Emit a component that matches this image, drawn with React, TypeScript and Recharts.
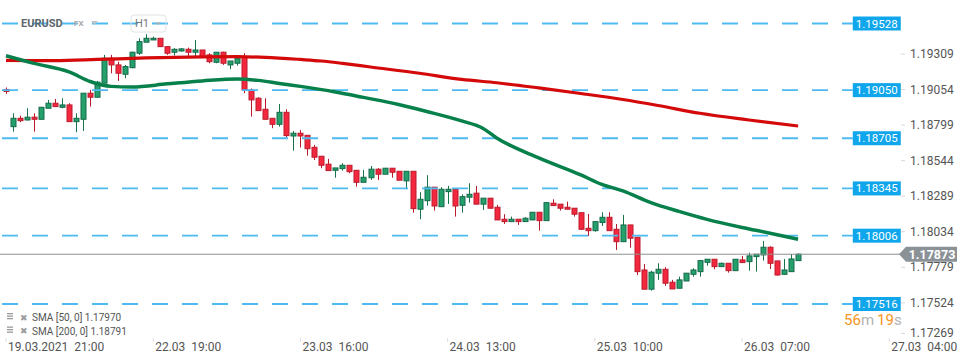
import { ComposedChart, Bar, Line, XAxis, YAxis, ReferenceLine } from 'recharts';

const W = 970;
const H = 364;
const PLOT_RIGHT = 905;

// hourly EURUSD candles, oldest first
const opens = [1.19055, 1.18788, 1.18848, 1.18836, 1.18856, 1.18841, 1.1892, 1.18956, 1.18927, 1.18944, 1.18824, 1.18841, 1.19028, 1.18999, 1.191, 1.19279, 1.19231, 1.19164, 1.19211, 1.19315, 1.19394, 1.1941, 1.19422, 1.19362, 1.19322, 1.19331, 1.19343, 1.19322, 1.19338, 1.19303, 1.1925, 1.19322, 1.19231, 1.19243, 1.1929, 1.19051, 1.18992, 1.18913, 1.18848, 1.18805, 1.18891, 1.18721, 1.18741, 1.18726, 1.1864, 1.18576, 1.18519, 1.18475, 1.18487, 1.18511, 1.18475, 1.18389, 1.18422, 1.18483, 1.18447, 1.1849, 1.18468, 1.18399, 1.18468, 1.18196, 1.18257, 1.18354, 1.18214, 1.18322, 1.18339, 1.18224, 1.18282, 1.18311, 1.18232, 1.18275, 1.1821, 1.18124, 1.18107, 1.18124, 1.18107, 1.18119, 1.18174, 1.18114, 1.18239, 1.18232, 1.1821, 1.18203, 1.18171, 1.18059, 1.18042, 1.181, 1.18138, 1.18052, 1.17963, 1.18083, 1.17995, 1.1776, 1.17622, 1.17737, 1.17765, 1.17672, 1.17629, 1.17681, 1.17729, 1.17748, 1.17815, 1.17837, 1.17784, 1.17808, 1.17755, 1.17832, 1.1782, 1.17856, 1.17868, 1.17923, 1.17825, 1.17729, 1.17748, 1.17827];
const highs = [1.19069, 1.18884, 1.18867, 1.1892, 1.18884, 1.1893, 1.1898, 1.18987, 1.18992, 1.18956, 1.18884, 1.19028, 1.19051, 1.19116, 1.19303, 1.19303, 1.19254, 1.19231, 1.19326, 1.19422, 1.19451, 1.19434, 1.19422, 1.19362, 1.19351, 1.19351, 1.19355, 1.1941, 1.19338, 1.19315, 1.19322, 1.19326, 1.19259, 1.19279, 1.19315, 1.19062, 1.18999, 1.18992, 1.18848, 1.18951, 1.18913, 1.18757, 1.18764, 1.18726, 1.18657, 1.18576, 1.18557, 1.18492, 1.18526, 1.18511, 1.18475, 1.18478, 1.18506, 1.1849, 1.1849, 1.1849, 1.18468, 1.18468, 1.18468, 1.18318, 1.1844, 1.18354, 1.18354, 1.18363, 1.18339, 1.18303, 1.18382, 1.18363, 1.18275, 1.18275, 1.18227, 1.1816, 1.18143, 1.18124, 1.18138, 1.18174, 1.18174, 1.18243, 1.18267, 1.18232, 1.1825, 1.18203, 1.18171, 1.18162, 1.18107, 1.18174, 1.18174, 1.1809, 1.18155, 1.18083, 1.17995, 1.17803, 1.17755, 1.17808, 1.1778, 1.17689, 1.17712, 1.17737, 1.17772, 1.17827, 1.17837, 1.17837, 1.17813, 1.17808, 1.17837, 1.17861, 1.17884, 1.17873, 1.17968, 1.17929, 1.17825, 1.17839, 1.17875, 1.1788];
const lows = [1.19023, 1.18752, 1.1882, 1.18833, 1.18752, 1.1884, 1.1892, 1.18932, 1.1892, 1.18824, 1.18748, 1.18757, 1.18932, 1.18999, 1.191, 1.19171, 1.19116, 1.19135, 1.19207, 1.19303, 1.19394, 1.1941, 1.19362, 1.19303, 1.19298, 1.19326, 1.1929, 1.1929, 1.19279, 1.19243, 1.19243, 1.19231, 1.192, 1.19226, 1.19028, 1.1886, 1.18903, 1.18841, 1.18777, 1.18788, 1.18712, 1.18616, 1.18638, 1.1858, 1.18549, 1.1849, 1.18473, 1.18422, 1.18473, 1.18454, 1.18358, 1.18389, 1.18406, 1.18406, 1.18447, 1.18422, 1.18404, 1.18339, 1.18171, 1.18124, 1.18222, 1.18186, 1.18214, 1.18234, 1.18143, 1.18171, 1.18243, 1.18232, 1.18191, 1.18203, 1.18119, 1.1809, 1.18107, 1.18083, 1.18107, 1.18119, 1.18042, 1.18114, 1.18222, 1.18186, 1.18196, 1.18143, 1.18047, 1.18004, 1.18035, 1.18076, 1.18042, 1.17904, 1.17963, 1.1792, 1.17724, 1.17622, 1.17612, 1.17689, 1.17646, 1.17624, 1.17629, 1.17681, 1.17712, 1.17712, 1.17791, 1.17765, 1.17784, 1.17741, 1.17755, 1.17813, 1.17755, 1.17748, 1.17827, 1.17767, 1.17719, 1.17724, 1.17748, 1.17827];
const closes = [1.19041, 1.18848, 1.18831, 1.18856, 1.18841, 1.18927, 1.18956, 1.18932, 1.18944, 1.18824, 1.18848, 1.19028, 1.18999, 1.19107, 1.19279, 1.19231, 1.19171, 1.19219, 1.19322, 1.19398, 1.19422, 1.19422, 1.19362, 1.19315, 1.19343, 1.19346, 1.19322, 1.19338, 1.1929, 1.19254, 1.19322, 1.19243, 1.19259, 1.19279, 1.19051, 1.1898, 1.18903, 1.18841, 1.18805, 1.18891, 1.18724, 1.18741, 1.18721, 1.1863, 1.18569, 1.18511, 1.18473, 1.18492, 1.18511, 1.18465, 1.18389, 1.18425, 1.18483, 1.18447, 1.1849, 1.18461, 1.18404, 1.18468, 1.182, 1.18267, 1.18354, 1.18219, 1.18339, 1.18339, 1.18219, 1.18286, 1.18303, 1.18232, 1.18275, 1.18203, 1.18119, 1.18107, 1.18124, 1.18107, 1.18131, 1.18174, 1.18114, 1.18243, 1.18222, 1.18203, 1.18196, 1.1816, 1.18052, 1.18042, 1.18107, 1.18138, 1.18042, 1.17963, 1.18083, 1.17988, 1.17748, 1.17622, 1.17744, 1.17765, 1.17665, 1.17624, 1.17689, 1.17737, 1.1776, 1.17827, 1.17837, 1.17784, 1.17808, 1.17755, 1.17837, 1.17813, 1.17861, 1.17873, 1.17923, 1.17808, 1.17724, 1.1776, 1.17839, 1.17873];

// moving averages read at a handful of bars (bar index -> value)
const sma50Idx = [0, 4, 9, 12, 15, 18, 23, 28, 33, 36, 39, 42, 47, 51, 56, 60, 65, 68, 70, 76, 82, 85, 88, 92, 96, 100, 105, 109, 113];
const sma50Val = [1.19297, 1.19242, 1.19181, 1.19112, 1.19077, 1.19073, 1.19095, 1.19116, 1.1913, 1.1912, 1.19098, 1.19077, 1.19037, 1.18998, 1.18947, 1.18897, 1.18829, 1.18777, 1.18707, 1.18564, 1.18442, 1.18374, 1.18327, 1.18243, 1.1818, 1.18123, 1.18065, 1.18024, 1.1798];
const sma200Idx = [0, 4, 7, 13, 20, 28, 33, 37, 42, 45, 48, 52, 59, 65, 70, 76, 82, 88, 93, 99, 106, 113];
const sma200Val = [1.19263, 1.19262, 1.19262, 1.1927, 1.19281, 1.19288, 1.1929, 1.19285, 1.1927, 1.19259, 1.19242, 1.19216, 1.19171, 1.19127, 1.19103, 1.19066, 1.19026, 1.18983, 1.1894, 1.18884, 1.18836, 1.18793];

const levels = [1.19528, 1.1905, 1.18705, 1.18345, 1.18006, 1.17516];
const lastPrice = 1.17873;
const yTicks = [1.19309, 1.19054, 1.18799, 1.18544, 1.18289, 1.18034, 1.17779, 1.17524, 1.17269];
const xTicks = [0, 21, 42, 63, 84, 105, 126];
const xTickDates = ['19.03.2021', '22.03', '23.03', '24.03', '25.03', '26.03', '27.03'];
const xTickTimes = ['21:00', '19:00', '16:00', '13:00', '10:00', '07:00', '04:00'];

const data = opens.map((o, i) => ({ i, open: o, high: highs[i], low: lows[i], close: closes[i] }));
const sma50Data = sma50Idx.map((i, k) => ({ i, v: sma50Val[k] }));
const sma200Data = sma200Idx.map((i, k) => ({ i, v: sma200Val[k] }));

const FONT = 'Roboto, "Noto Sans", sans-serif';

const Candle = (props: any) => {
  const { x, y, width, height, payload } = props;
  if (x == null || y == null) return null;
  const { open, close, high, low } = payload;
  const top = Math.min(y, y + height);
  const h = Math.abs(height);
  const k = high - low > 0 ? h / (high - low) : 0;
  const yo = top + (high - open) * k;
  const yc = top + (high - close) * k;
  const up = close >= open;
  const cx = Math.round(x + width / 2) + 0.5;
  const bTop = Math.min(yo, yc);
  const bH = Math.max(Math.abs(yo - yc), 1.5);
  return (
    <g>
      <line x1={cx} x2={cx} y1={top} y2={top + h} stroke={up ? '#17734a' : '#b81a2c'} strokeWidth={1} />
      <rect
        x={cx - 2.5}
        y={bTop}
        width={5}
        height={bH}
        fill={up ? '#25a06b' : '#f3283f'}
        stroke={up ? '#14694a' : '#bb1b2d'}
        strokeWidth={1}
      />
    </g>
  );
};

const YTick = ({ y, payload }: any) => {
  const dy = payload.value < 1.173 ? -5 : 0;
  return (
    <g>
      <line x1={PLOT_RIGHT - 4} x2={PLOT_RIGHT} y1={y + dy} y2={y + dy} stroke="#d8d8d8" />
      <text x={PLOT_RIGHT + 5} y={y + dy + 4} fontSize={12} fill="#555" fontFamily={FONT}>
        {payload.value.toFixed(5)}
      </text>
    </g>
  );
};

const XTick = ({ x, payload }: any) => {
  const k = xTicks.indexOf(payload.value);
  return (
    <g>
      <line x1={x} x2={x} y1={338} y2={342} stroke="#ddd" />
      <text x={x + 2} y={351} fontSize={12} fill="#555" fontFamily={FONT}>
        {xTickDates[k]}
        <tspan dx={6}>{xTickTimes[k]}</tspan>
      </text>
    </g>
  );
};

const LevelTag = ({ viewBox, value }: any) => {
  if (!viewBox) return null;
  const bx = viewBox.x + viewBox.width;
  const by = viewBox.y;
  return (
    <g>
      <rect x={bx} y={by - 7} width={48} height={14} fill="#0fa6ec" />
      <text x={bx + 24} y={by + 4} textAnchor="middle" fontSize={11.5} fill="#fff" fontFamily={FONT}>
        {value.toFixed(5)}
      </text>
    </g>
  );
};

const PriceTag = ({ viewBox, value }: any) => {
  if (!viewBox) return null;
  const r = viewBox.x + viewBox.width;
  const y = viewBox.y;
  return (
    <g>
      <path d={`M${r - 6},${y} L${r + 1},${y - 7.5} L${r + 52},${y - 7.5} L${r + 52},${y + 7.5} L${r + 1},${y + 7.5} Z`} fill="#8b9297" />
      <text x={r + 27} y={y + 4.5} textAnchor="middle" fontSize={12.5} fontWeight="bold" fill="#fff" fontFamily={FONT}>
        {value.toFixed(5)}
      </text>
    </g>
  );
};

const Overlay = () => (
  <svg width={W} height={H} style={{ position: 'absolute', left: 0, top: 0, pointerEvents: 'none' }} fontFamily={FONT}>
    <text x={21} y={27} fontSize={11} fontWeight="bold" fill="#5c666d">EURUSD</text>
    <text x={74} y={26} fontSize={8} fontWeight="bold" fill="#a8a8a8">FX</text>
    <path d="M91,21 L98,21 L94.5,24.5 Z" fill="#c4c4c4" />
    <rect x={131} y={15} width={35} height={17} rx={3} fill="none" stroke="#e2e2e2" />
    <text x={135} y={27} fontSize={11} fill="#777">H1</text>
    <path d="M155,22.5 L161,22.5 L158,25 Z" fill="#b0b0b0" />

    <g fill="#9a9a9a">
      <rect x={7} y={313} width={6} height={1.3} />
      <rect x={7} y={315.5} width={6} height={1.3} />
      <rect x={7} y={318} width={6} height={1.3} />
      <rect x={7} y={326.5} width={6} height={1.3} />
      <rect x={7} y={329} width={6} height={1.3} />
      <rect x={7} y={331.5} width={6} height={1.3} />
    </g>
    <text x={20} y={320.5} fontSize={9} fill="#9a9a9a">✖</text>
    <text x={20} y={334} fontSize={9} fill="#9a9a9a">✖</text>
    <text x={32} y={321} fontSize={10} fill="#555">SMA [50, 0] 1.17970</text>
    <text x={32} y={334.5} fontSize={10} fill="#555">SMA [200, 0] 1.18791</text>

    <text x={844} y={324.5} fontSize={15}>
      <tspan fill="#f7941d">56</tspan>
      <tspan fill="#b3b3b3">m</tspan>
      <tspan fill="#f7941d" dx={3}>19</tspan>
      <tspan fill="#b3b3b3">s</tspan>
    </text>
  </svg>
);

export default function App() {
  return (
    <div style={{ position: 'relative', width: W, height: H, background: '#fff' }}>
      <style>{`body{margin:0}`}</style>
      <ComposedChart width={W} height={H} data={data} margin={{ top: 0, right: 0, bottom: 0, left: 0 }}>
        <XAxis
          type="number"
          dataKey="i"
          domain={[-0.856, 128.25]}
          allowDataOverflow
          ticks={xTicks}
          interval={0}
          axisLine={false}
          tickLine={false}
          height={28}
          tick={<XTick />}
        />
        <YAxis
          type="number"
          orientation="right"
          domain={[1.172864, 1.196966]}
          allowDataOverflow
          ticks={yTicks}
          interval={0}
          axisLine={false}
          tickLine={false}
          width={65}
          tick={<YTick />}
        />
        {levels.map((v) => (
          <ReferenceLine
            key={v}
            segment={[{ x: -0.856, y: v }, { x: 120.8, y: v }]}
            stroke="#4dbbf2"
            strokeWidth={1.8}
            strokeDasharray="16 14"
            strokeDashoffset={-2}
            label={<LevelTag value={v} />}
          />
        ))}
        <ReferenceLine y={lastPrice} stroke="#8f8f8f" strokeWidth={1} label={<PriceTag value={lastPrice} />} />
        <Bar dataKey={(d: any) => [d.low, d.high]} barSize={5} shape={<Candle />} isAnimationActive={false} />
        <Line data={sma200Data} dataKey="v" type="monotone" stroke="#d40a0a" strokeWidth={3.2} dot={false} activeDot={false} isAnimationActive={false} />
        <Line data={sma50Data} dataKey="v" type="monotone" stroke="#07804b" strokeWidth={3.5} dot={false} activeDot={false} isAnimationActive={false} />
      </ComposedChart>
      <Overlay />
    </div>
  );
}
